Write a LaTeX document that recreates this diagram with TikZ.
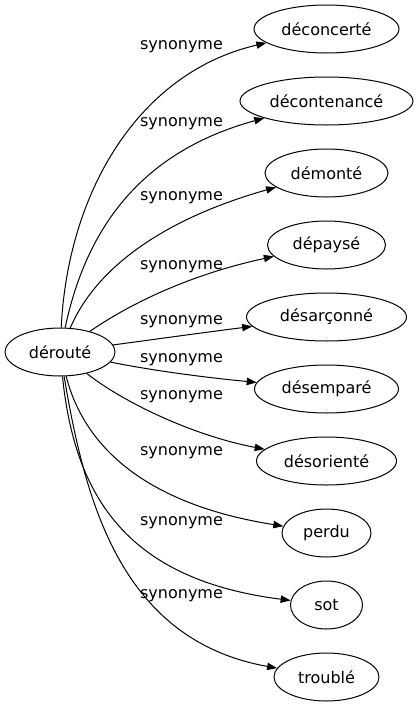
\documentclass[tikz,border=0pt]{standalone}
\usepackage{fontspec}
\setmainfont{DejaVu Sans}
\usetikzlibrary{shapes.geometric,arrows.meta}

\tikzset{every picture/.style={line width=0.75pt}}
\tikzset{
  word/.style={draw, ellipse, minimum height=36pt, inner sep=0pt, font=\fontsize{12}{14}\selectfont},
  rel/.style={inner sep=0.75pt, font=\fontsize{12}{14}\selectfont},
  syn/.style={-{Triangle[length=7.5pt,width=5.5pt]}}
}

\begin{document}
\begin{tikzpicture}[x=0.75pt,y=0.75pt,yscale=-1,xscale=1]
\useasboundingbox (0,0) rectangle (419,707);

%Ellipse: source word
\node [word, minimum width=82.5pt] (deroute) at (60,352) {dérouté};
%Ellipse: synonyms
\node [word, minimum width=108.75pt] (deconcerte) at (326.5,29) {déconcerté};
\node [word, minimum width=129.75pt] (decontenance) at (326.5,101) {décontenancé};
\node [word, minimum width=92.25pt] (demonte) at (326.5,173) {démonté};
\node [word, minimum width=88.5pt] (depayse) at (326.5,245) {dépaysé};
\node [word, minimum width=120pt] (desarconne) at (326.5,317) {désarçonné};
\node [word, minimum width=108pt] (desempare) at (326.5,389) {désemparé};
\node [word, minimum width=105pt] (desoriente) at (326.5,461) {désorienté};
\node [word, minimum width=66.75pt] (perdu) at (326.5,533) {perdu};
\node [word, minimum width=54pt] (sot) at (326.5,605) {sot};
\node [word, minimum width=78.75pt] (trouble) at (326.5,677) {troublé};

%Curve Lines
\draw [syn] (deroute) .. controls (68,190) and (140,72) .. (deconcerte);
\draw [syn] (deroute) .. controls (88,220) and (148,150) .. (decontenance);
\draw [syn] (deroute) .. controls (95,270) and (160,220) .. (demonte);
\draw [syn] (deroute) .. controls (128,305) and (188,275) .. (depayse);
\draw [syn] (deroute) .. controls (150,340) and (200,333) .. (desarconne);
\draw [syn] (deroute) .. controls (150,370) and (200,377) .. (desempare);
\draw [syn] (deroute) .. controls (120,400) and (190,435) .. (desoriente);
\draw [syn] (deroute) .. controls (85,450) and (150,505) .. (perdu);
\draw [syn] (deroute) .. controls (75,500) and (130,580) .. (sot);
\draw [syn] (deroute) .. controls (85,500) and (120,640) .. (trouble);

% Text Node
\node [rel] (rel1) at (181.5,47) {synonyme};
\node [rel] (rel2) at (181.5,124) {synonyme};
\node [rel] (rel3) at (181.5,198) {synonyme};
\node [rel] (rel4) at (181.5,267) {synonyme};
\node [rel] (rel5) at (181.5,322) {synonyme};
\node [rel] (rel6) at (181.5,360) {synonyme};
\node [rel] (rel7) at (181.5,397) {synonyme};
\node [rel] (rel8) at (181.5,453) {synonyme};
\node [rel] (rel9) at (181.5,523) {synonyme};
\node [rel] (rel10) at (181.5,596) {synonyme};

\end{tikzpicture}
\end{document}
